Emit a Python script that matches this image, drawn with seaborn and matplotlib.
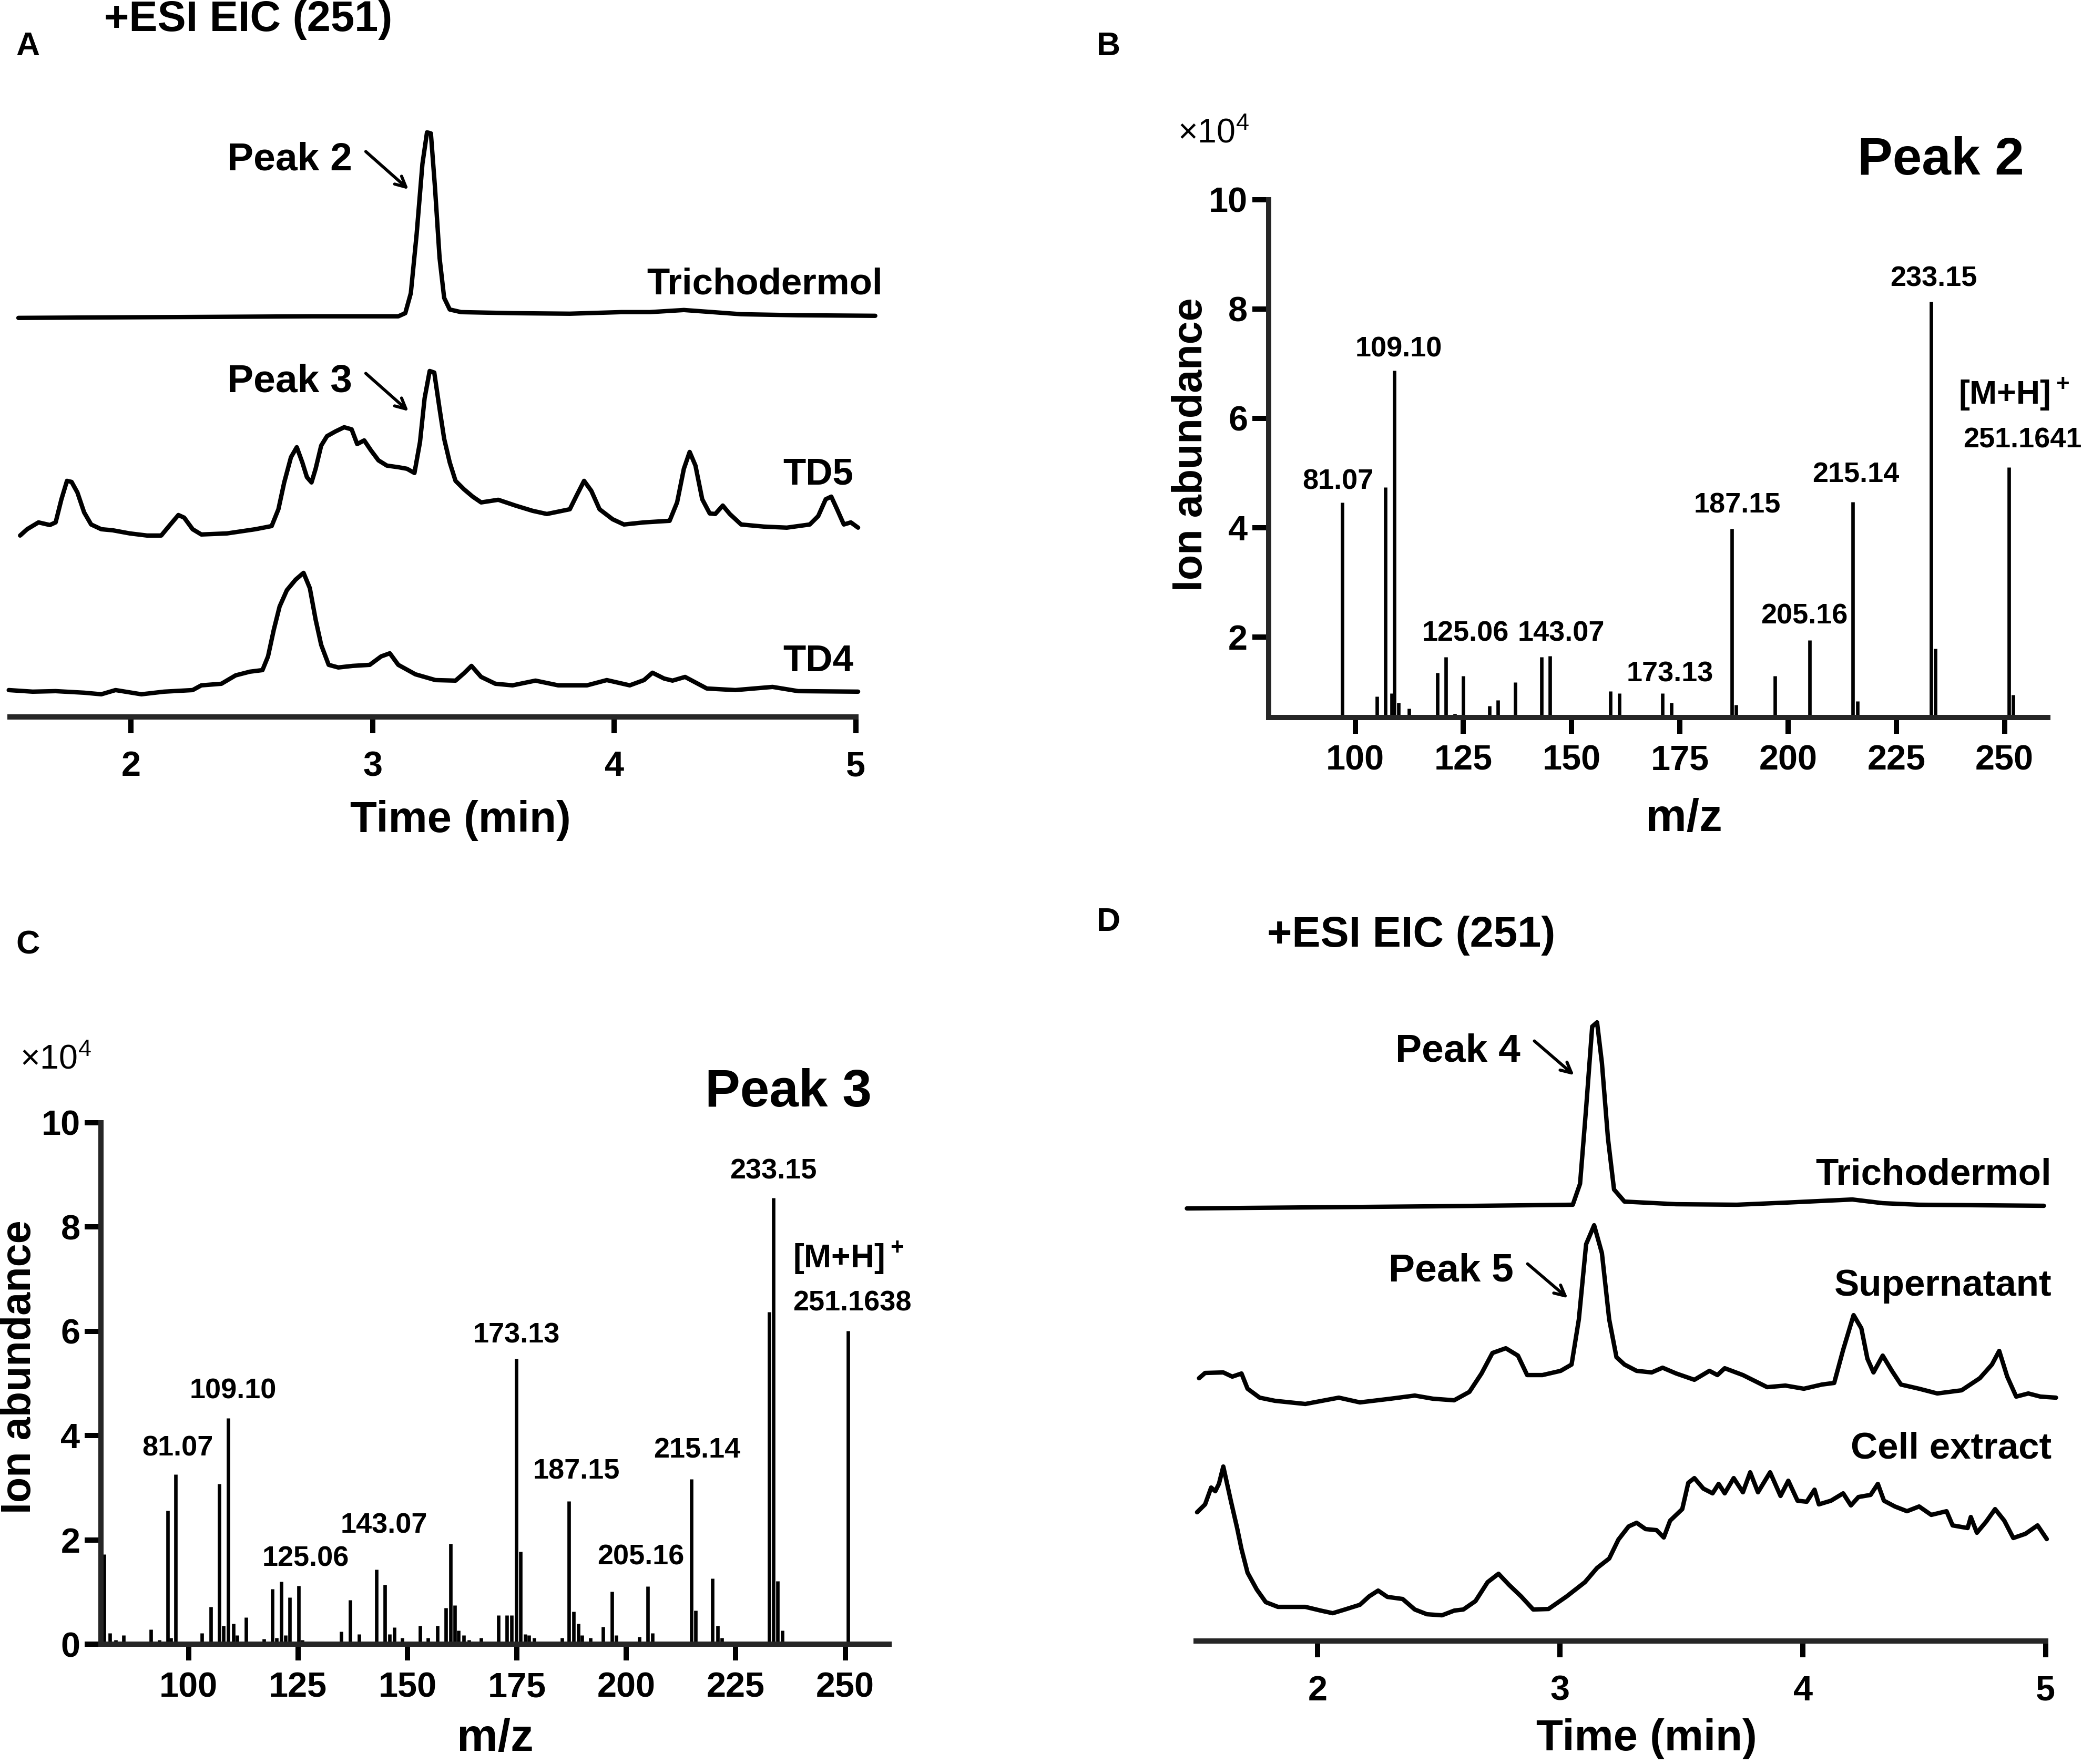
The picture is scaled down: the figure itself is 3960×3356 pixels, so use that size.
import numpy as np
import seaborn as sns
import matplotlib.pyplot as plt

sns.set_theme(style="ticks")
plt.rcParams['font.family'] = ['Liberation Sans', 'DejaVu Sans']
plt.rcParams['font.weight'] = 'bold'
plt.rcParams['mathtext.default'] = 'regular'

# ---- panel A : EIC traces (relative intensity above each trace's baseline) ----
a_trich_t = [1.534, 1.924, 2.35, 2.75, 3.106, 3.135, 3.158, 3.182, 3.206, 3.225, 3.241, 3.258, 3.277,
             3.296, 3.319, 3.366, 3.579, 3.816, 4.028, 4.147, 4.288, 4.407, 4.525, 4.761, 5.08]
a_trich = [0.04, 0.05, 0.06, 0.07, 0.07, 0.13, 0.51, 1.63, 2.97, 3.57, 3.55, 2.52, 1.18,
           0.42, 0.20, 0.15, 0.13, 0.12, 0.15, 0.15, 0.19, 0.15, 0.11, 0.09, 0.08]

a_td5_t = [1.541, 1.570, 1.617, 1.664, 1.688, 1.712, 1.735, 1.754, 1.778, 1.806, 1.835, 1.877, 1.924,
           1.995, 2.066, 2.125, 2.161, 2.196, 2.220, 2.255, 2.291, 2.397, 2.515, 2.582, 2.610, 2.634,
           2.662, 2.686, 2.709, 2.728, 2.747, 2.764, 2.787, 2.811, 2.846, 2.882, 2.913, 2.936, 2.965,
           2.993, 3.024, 3.059, 3.106, 3.142, 3.173, 3.196, 3.215, 3.236, 3.255, 3.277, 3.296, 3.319,
           3.343, 3.378, 3.414, 3.449, 3.520, 3.591, 3.662, 3.721, 3.816, 3.844, 3.875, 3.905, 3.939,
           3.993, 4.040, 4.123, 4.229, 4.260, 4.288, 4.312, 4.336, 4.364, 4.395, 4.418, 4.449, 4.478,
           4.525, 4.619, 4.714, 4.809, 4.844, 4.875, 4.898, 4.922, 4.950, 4.979, 5.009]
a_td5 = [0.05, 0.17, 0.30, 0.25, 0.30, 0.74, 1.09, 1.07, 0.87, 0.49, 0.26, 0.17, 0.15,
         0.09, 0.05, 0.05, 0.25, 0.44, 0.39, 0.17, 0.07, 0.09, 0.17, 0.23, 0.55, 1.06,
         1.54, 1.73, 1.44, 1.16, 1.06, 1.32, 1.76, 1.94, 2.03, 2.11, 2.07, 1.79, 1.86,
         1.67, 1.48, 1.38, 1.35, 1.32, 1.24, 1.83, 2.66, 3.18, 3.15, 2.46, 1.89, 1.44,
         1.09, 0.93, 0.79, 0.68, 0.73, 0.62, 0.52, 0.46, 0.55, 0.81, 1.09, 0.90, 0.55,
         0.36, 0.26, 0.30, 0.33, 0.68, 1.32, 1.64, 1.38, 0.74, 0.47, 0.46, 0.62, 0.46,
         0.26, 0.22, 0.20, 0.26, 0.42, 0.74, 0.79, 0.55, 0.26, 0.30, 0.20]

a_td4_t = [1.494, 1.593, 1.688, 1.806, 1.877, 1.936, 2.043, 2.137, 2.255, 2.291, 2.374, 2.433, 2.492,
           2.544, 2.567, 2.591, 2.615, 2.645, 2.681, 2.714, 2.740, 2.764, 2.787, 2.818, 2.858, 2.917,
           2.988, 3.035, 3.071, 3.106, 3.177, 3.260, 3.343, 3.378, 3.409, 3.449, 3.508, 3.579, 3.674,
           3.768, 3.887, 3.969, 4.064, 4.123, 4.158, 4.206, 4.241, 4.293, 4.383, 4.501, 4.655, 4.761, 5.009]
a_td4 = [0.11, 0.08, 0.09, 0.06, 0.03, 0.11, 0.03, 0.08, 0.11, 0.20, 0.23, 0.39, 0.46,
         0.49, 0.75, 1.26, 1.70, 2.01, 2.21, 2.34, 2.05, 1.45, 0.97, 0.59, 0.54, 0.57,
         0.59, 0.75, 0.81, 0.59, 0.41, 0.30, 0.29, 0.43, 0.57, 0.36, 0.23, 0.20, 0.29,
         0.20, 0.20, 0.30, 0.20, 0.30, 0.44, 0.33, 0.29, 0.36, 0.14, 0.11, 0.17, 0.09, 0.08]

# ---- panel D : EIC traces ----
d_trich_t = [1.462, 1.975, 2.476, 3.052, 3.082, 3.107, 3.132, 3.152, 3.172, 3.197, 3.222, 3.265,
             3.478, 3.728, 3.928, 4.204, 4.329, 4.479, 4.993]
d_trich = [0.03, 0.05, 0.07, 0.10, 0.50, 1.94, 3.49, 3.57, 2.80, 1.36, 0.39, 0.16,
           0.11, 0.10, 0.14, 0.20, 0.13, 0.10, 0.08]

d_super_t = [1.512, 1.537, 1.612, 1.649, 1.687, 1.712, 1.762, 1.825, 1.950, 2.088, 2.175, 2.301,
             2.401, 2.476, 2.563, 2.626, 2.676, 2.721, 2.776, 2.826, 2.864, 2.927, 3.002, 3.047,
             3.077, 3.107, 3.140, 3.172, 3.202, 3.232, 3.265, 3.315, 3.377, 3.422, 3.478, 3.553,
             3.615, 3.648, 3.678, 3.753, 3.853, 3.928, 4.004, 4.079, 4.129, 4.166, 4.209, 4.241,
             4.266, 4.291, 4.329, 4.367, 4.404, 4.479, 4.554, 4.654, 4.729, 4.779, 4.809, 4.842,
             4.879, 4.929, 4.979, 5.043]
d_super = [0.55, 0.65, 0.66, 0.58, 0.64, 0.35, 0.18, 0.12, 0.06, 0.18, 0.09, 0.16,
           0.22, 0.16, 0.13, 0.29, 0.64, 1.03, 1.12, 0.98, 0.61, 0.61, 0.69, 0.81,
           1.67, 3.10, 3.46, 2.93, 1.67, 0.95, 0.81, 0.69, 0.66, 0.75, 0.64, 0.52,
           0.69, 0.61, 0.74, 0.61, 0.38, 0.41, 0.35, 0.43, 0.46, 1.09, 1.75, 1.50,
           0.92, 0.66, 0.98, 0.69, 0.43, 0.35, 0.26, 0.32, 0.55, 0.81, 1.07, 0.58,
           0.20, 0.26, 0.20, 0.18]

d_cell_t = [1.504, 1.537, 1.562, 1.579, 1.594, 1.612, 1.644, 1.669, 1.687, 1.712, 1.750, 1.787,
            1.837, 1.900, 1.950, 2.013, 2.063, 2.113, 2.175, 2.213, 2.250, 2.288, 2.351, 2.401,
            2.451, 2.513, 2.564, 2.601, 2.651, 2.701, 2.746, 2.789, 2.839, 2.889, 2.952, 3.027,
            3.102, 3.152, 3.202, 3.240, 3.282, 3.315, 3.352, 3.397, 3.427, 3.453, 3.503, 3.528,
            3.553, 3.590, 3.628, 3.653, 3.678, 3.715, 3.753, 3.783, 3.815, 3.865, 3.908, 3.940,
            3.978, 4.016, 4.048, 4.066, 4.116, 4.166, 4.198, 4.229, 4.279, 4.309, 4.334, 4.379,
            4.429, 4.479, 4.529, 4.592, 4.617, 4.679, 4.692, 4.717, 4.755, 4.792, 4.830, 4.867,
            4.917, 4.967, 5.005]
d_cell = [2.00, 2.15, 2.47, 2.40, 2.54, 2.87, 2.20, 1.70, 1.30, 0.85, 0.53, 0.29,
          0.20, 0.20, 0.20, 0.13, 0.08, 0.15, 0.24, 0.40, 0.51, 0.39, 0.35, 0.15,
          0.06, 0.04, 0.13, 0.15, 0.31, 0.67, 0.83, 0.62, 0.40, 0.15, 0.16, 0.40,
          0.67, 0.94, 1.12, 1.48, 1.73, 1.80, 1.68, 1.66, 1.52, 1.84, 2.06, 2.56,
          2.65, 2.45, 2.36, 2.54, 2.36, 2.65, 2.38, 2.76, 2.38, 2.76, 2.31, 2.60,
          2.22, 2.20, 2.43, 2.15, 2.22, 2.36, 2.13, 2.29, 2.33, 2.54, 2.22, 2.11,
          2.02, 2.11, 1.95, 2.02, 1.75, 1.70, 1.91, 1.61, 1.82, 2.06, 1.84, 1.51,
          1.59, 1.75, 1.49]

# ---- panel B : MS spectrum of peak 2 (x10^4) ----
b_mz = [97, 105, 107, 108.4, 109, 110, 112.5, 119, 121, 123, 125, 131, 133, 137, 143, 145,
        153, 159, 161, 171, 173, 187, 188, 197, 205, 215, 216, 233, 234, 251, 252]
b_int = [4.46, 0.91, 4.74, 0.97, 6.87, 0.80, 0.69, 1.35, 1.63, 0.60, 1.29, 0.74, 0.85, 1.17, 1.63, 1.65,
         0.57, 1.01, 0.97, 0.97, 0.80, 3.98, 0.76, 1.29, 1.94, 4.47, 0.83, 8.13, 1.79, 5.10, 0.94]
b_labels = ['81.07', '109.10', '125.06', '143.07', '173.13', '187.15', '205.16', '215.14', '233.15']
b_label_x = [96.1, 110.1, 125.5, 147.6, 172.7, 188.3, 203.7, 215.6, 233.6]
b_label_y = [4.60, 7.02, 1.82, 1.82, 1.08, 4.17, 2.14, 4.72, 8.31]

# ---- panel C : MS spectrum of peak 3 (x10^4) ----
c_mz = [80.7, 82, 83.4, 85.2, 91.4, 93.3, 95.2, 96, 97, 103.1, 105.1, 107, 108, 109.1, 110.2, 111.1,
        113.1, 117.2, 119.1, 120.1, 121.2, 122.1, 123.1, 125.1, 126, 134.9, 136.9, 138.9, 140.8,
        142.9, 144.9, 145.9, 147, 148.8, 152.9, 154.7, 156.8, 158.8, 159.8, 160.8, 161.7, 162.8,
        164.1, 166.8, 170.8, 172.7, 173.8, 174.9, 175.8, 176.9, 177.8, 178.9, 185.3, 186.9, 187.9,
        189, 189.9, 191.8, 194.7, 196.7, 197.7, 203, 204.9, 206, 214.9, 215.8, 219.7, 220.8, 221.8,
        232.6, 233.6, 234.6, 235.6, 250.7]
c_int = [1.73, 0.22, 0.09, 0.18, 0.29, 0.09, 2.56, 0.13, 3.26, 0.22, 0.72, 3.08, 0.36, 4.34, 0.40, 0.18,
         0.52, 0.11, 1.06, 0.13, 1.20, 0.18, 0.90, 1.12, 0.09, 0.25, 0.85, 0.20, 0.04,
         1.44, 1.14, 0.20, 0.33, 0.13, 0.36, 0.13, 0.36, 0.70, 1.93, 0.75, 0.27, 0.18,
         0.09, 0.13, 0.56, 0.56, 0.56, 5.47, 1.78, 0.20, 0.18, 0.13, 0.13, 2.74, 0.63,
         0.40, 0.18, 0.13, 0.34, 1.01, 0.18, 0.15, 1.11, 0.22, 3.17, 0.65, 1.26, 0.36, 0.13,
         6.37, 8.56, 1.21, 0.27, 6.01]
c_labels = ['81.07', '109.10', '125.06', '143.07', '173.13', '187.15', '205.16', '215.14', '233.15']
c_label_x = [97.5, 110.2, 126.8, 144.7, 174.9, 188.6, 203.3, 216.1, 233.6]
c_label_y = [3.51, 4.60, 1.39, 2.02, 5.67, 3.06, 1.42, 3.46, 8.81]

fig = plt.figure(figsize=(13.2, 11.1867), dpi=300)

LW = 2.0
SPINE = 2.4


def chrom_axes(rect):
    ax = fig.add_axes(rect)
    ax.set_xlim(1.5, 5.0)
    ax.set_ylim(0, 12)
    ax.set_facecolor('white')
    for s in ['top', 'right', 'left']:
        ax.spines[s].set_visible(False)
    ax.spines['bottom'].set_linewidth(SPINE)
    ax.set_yticks([])
    ax.set_xticks([2, 3, 4, 5])
    ax.set_xticklabels(['2', '3', '4', '5'])
    ax.tick_params(axis='x', direction='out', length=7.5, width=SPINE, pad=8,
                   labelsize=16, color='black', labelcolor='black')
    return ax


def trace(ax, t, y, base):
    sns.lineplot(x=t, y=np.array(y) + base, ax=ax, color='black', lw=LW,
                 clip_on=False, sort=False, estimator=None)


def spec_axes(rect, ylo):
    ax = fig.add_axes(rect)
    ax.set_xlim(80, 260)
    ax.set_ylim(ylo, 10)
    ax.set_facecolor('white')
    for s in ['top', 'right']:
        ax.spines[s].set_visible(False)
    for s in ['left', 'bottom']:
        ax.spines[s].set_linewidth(SPINE)
    ax.set_xticks([100, 125, 150, 175, 200, 225, 250])
    ax.tick_params(axis='both', direction='out', length=7.5, width=SPINE,
                   labelsize=16, color='black', labelcolor='black')
    ax.tick_params(axis='x', pad=5)
    ax.tick_params(axis='y', pad=2)
    return ax


def text_kw(size):
    return dict(fontsize=size, fontweight='bold', color='black')


# ---------------- Panel A ----------------
axA = chrom_axes([0.0049, 0.5936, 0.4062, 0.3576])
trace(axA, a_trich_t, a_trich, 7.55)
trace(axA, a_td5_t, a_td5, 3.4)
trace(axA, a_td4_t, a_td4, 0.4)
axA.text(2.656, 10.60, 'Peak 2', ha='center', va='center', **text_kw(18))
axA.annotate('', xy=(3.162, 9.98), xytext=(2.958, 10.81),
             arrowprops=dict(arrowstyle='->', lw=1.4, color='black'))
axA.text(2.656, 6.38, 'Peak 3', ha='center', va='center', **text_kw(18))
axA.annotate('', xy=(3.162, 5.76), xytext=(2.958, 6.59),
             arrowprops=dict(arrowstyle='->', lw=1.4, color='black'))
axA.text(5.11, 8.22, 'Trichodermol', ha='right', va='center', **text_kw(17))
axA.text(4.99, 4.60, 'TD5', ha='right', va='center', **text_kw(17))
axA.text(4.99, 1.05, 'TD4', ha='right', va='center', **text_kw(17))

# ---------------- Panel D ----------------
axD = chrom_axes([0.5745, 0.0697, 0.408, 0.3576])
trace(axD, d_trich_t, d_trich, 8.2)
trace(axD, d_super_t, d_super, 4.45)
trace(axD, d_cell_t, d_cell, 0.45)
axD.text(2.579, 11.22, 'Peak 4', ha='center', va='center', **text_kw(18))
axD.annotate('', xy=(3.071, 10.71), xytext=(2.88, 11.47),
             arrowprops=dict(arrowstyle='->', lw=1.4, color='black'))
axD.text(2.551, 7.04, 'Peak 5', ha='center', va='center', **text_kw(18))
axD.annotate('', xy=(3.045, 6.47), xytext=(2.852, 7.23),
             arrowprops=dict(arrowstyle='->', lw=1.4, color='black'))
axD.text(5.025, 8.87, 'Trichodermol', ha='right', va='center', **text_kw(17))
axD.text(5.025, 6.75, 'Supernatant', ha='right', va='center', **text_kw(17))
axD.text(5.025, 3.66, 'Cell extract', ha='right', va='center', **text_kw(17))

# ---------------- Panel B ----------------
axB = spec_axes([0.6093, 0.5933, 0.3743, 0.2936], 0.53)
axB.vlines(b_mz, 0, b_int, color='black', lw=1.6)
axB.set_yticks([2, 4, 6, 8, 10])
for lab, x, y in zip(b_labels, b_label_x, b_label_y):
    axB.text(x, y, lab, ha='center', va='bottom', **text_kw(13))
axB.text(252.1, 6.10, '[M+H]$^+$', ha='center', va='bottom', **text_kw(15))
axB.text(254.2, 5.36, '251.1641', ha='center', va='bottom', clip_on=False, **text_kw(13))
axB.text(254.5, 10.71, 'Peak 2', ha='right', va='center', **text_kw(24))
axB.text(59, 11.2, r'$\times$10$^4$', ha='left', va='center', fontsize=15.5,
         fontweight='normal', color='black')

# ---------------- Panel C ----------------
axC = spec_axes([0.0485, 0.0678, 0.3785, 0.2958], 0)
axC.vlines(c_mz, 0, c_int, color='black', lw=1.6)
axC.set_yticks([0, 2, 4, 6, 8, 10])
for lab, x, y in zip(c_labels, c_label_x, c_label_y):
    axC.text(x, y, lab, ha='center', va='bottom', **text_kw(13))
axC.text(250.7, 7.06, '[M+H]$^+$', ha='center', va='bottom', **text_kw(15))
axC.text(251.6, 6.29, '251.1638', ha='center', va='bottom', **text_kw(13))
axC.text(256.0, 10.57, 'Peak 3', ha='right', va='center', **text_kw(24))
axC.text(61.5, 11.2, r'$\times$10$^4$', ha='left', va='center', fontsize=15.5,
         fontweight='normal', color='black')

for ax in [axB, axC]:
    for lab in ax.get_xticklabels() + ax.get_yticklabels():
        lab.set_fontweight('bold')
for ax in [axA, axD]:
    for lab in ax.get_xticklabels():
        lab.set_fontweight('bold')

# ---------------- figure-level text ----------------
fig.text(0.00765, 0.9737, 'A', ha='left', va='center', **text_kw(15))
fig.text(0.5325, 0.9737, 'B', ha='center', va='center', **text_kw(15))
fig.text(0.00765, 0.4643, 'C', ha='left', va='center', **text_kw(15))
fig.text(0.5325, 0.4771, 'D', ha='center', va='center', **text_kw(15))
fig.text(0.1193, 0.9887, '+ESI EIC (251)', ha='center', va='center', **text_kw(19.5))
fig.text(0.6779, 0.4695, '+ESI EIC (251)', ha='center', va='center', **text_kw(19.5))
fig.text(0.2213, 0.535, 'Time (min)', ha='center', va='center', **text_kw(20))
fig.text(0.7908, 0.0143, 'Time (min)', ha='center', va='center', **text_kw(20))
fig.text(0.8087, 0.5357, 'm/z', ha='center', va='center', **text_kw(21))
fig.text(0.2379, 0.0143, 'm/z', ha='center', va='center', **text_kw(21))
fig.text(0.5721, 0.7479, 'Ion abundance', ha='center', va='center', rotation=90, **text_kw(19))
fig.text(0.00957, 0.225, 'Ion abundance', ha='center', va='center', rotation=90, **text_kw(19))

fig.savefig('out.png', dpi=300, facecolor='white')
